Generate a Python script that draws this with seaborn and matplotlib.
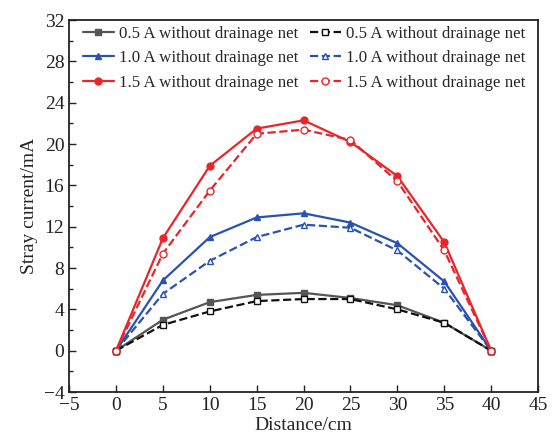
import matplotlib
matplotlib.use("Agg")
import matplotlib.pyplot as plt
from matplotlib.ticker import MultipleLocator
import seaborn as sns
import pandas as pd

distance = [0, 5, 10, 15, 20, 25, 30, 35, 40]

black_solid = [0, 3.0, 4.7, 5.4, 5.6, 5.1, 4.4, 2.7, 0]
black_dash = [0, 2.5, 3.8, 4.8, 5.0, 5.0, 4.0, 2.7, 0]
blue_solid = [0, 6.8, 11.0, 12.9, 13.3, 12.4, 10.4, 6.7, 0]
blue_dash = [0, 5.5, 8.7, 11.0, 12.2, 11.9, 9.7, 6.0, 0]
red_solid = [0, 10.9, 17.9, 21.5, 22.3, 20.2, 16.9, 10.5, 0]
red_dash = [0, 9.4, 15.5, 21.0, 21.4, 20.4, 16.4, 9.7, 0]

labels = ["0.5 A without drainage net", "1.0 A without drainage net",
          "1.5 A without drainage net"]

sns.set_theme(style="ticks")
plt.rcParams["font.family"] = ["Liberation Serif", "DejaVu Serif"]
plt.rcParams["mathtext.fontset"] = "stix"

fig = plt.figure(figsize=(5.53, 4.48), dpi=100)
ax = fig.add_axes([0.125, 0.125, 0.848, 0.830])

series = [
    (black_solid, "#555555", "-", "s", "#555555", labels[0]),
    (blue_solid, "#2a52b0", "-", "^", "#2a52b0", labels[1]),
    (red_solid, "#e8262a", "-", "o", "#e8262a", labels[2]),
    (black_dash, "#111111", "--", "s", "white", labels[0]),
    (blue_dash, "#2a52b0", "--", "^", "white", labels[1]),
    (red_dash, "#e8262a", "--", "o", "white", labels[2]),
]

for vals, color, ls, mk, mfc, lab in series:
    df = pd.DataFrame({"Distance": distance, "Current": vals})
    sns.lineplot(data=df, x="Distance", y="Current", ax=ax, color=color,
                 linestyle=ls, marker=mk, markersize=5, markerfacecolor=mfc,
                 markeredgecolor=color, markeredgewidth=1.0, linewidth=1.6,
                 label=lab)

ax.set_xlim(-5, 45)
ax.set_ylim(-4, 32)
ax.xaxis.set_major_locator(MultipleLocator(5))
ax.yaxis.set_major_locator(MultipleLocator(4))
ax.yaxis.set_minor_locator(MultipleLocator(2))
ax.tick_params(axis="both", which="both", direction="in", labelsize=14,
               colors="#222222")
ax.tick_params(which="major", length=5, width=1)
ax.tick_params(which="minor", length=3, width=1)
for sp in ax.spines.values():
    sp.set_linewidth(1.3)
    sp.set_color("#222222")

ax.set_xlabel("Distance/cm", fontsize=14, labelpad=2)
ax.set_ylabel("Stray current/mA", fontsize=14, labelpad=4)

leg = ax.legend(loc="upper left", ncol=2, fontsize=12.2, frameon=False,
                handlelength=1.8, handletextpad=0.3, columnspacing=0.7,
                labelspacing=0.5, borderaxespad=0.0, borderpad=0.0,
                bbox_to_anchor=(0.03, 0.985))

fig.savefig("out.png", dpi=100)
